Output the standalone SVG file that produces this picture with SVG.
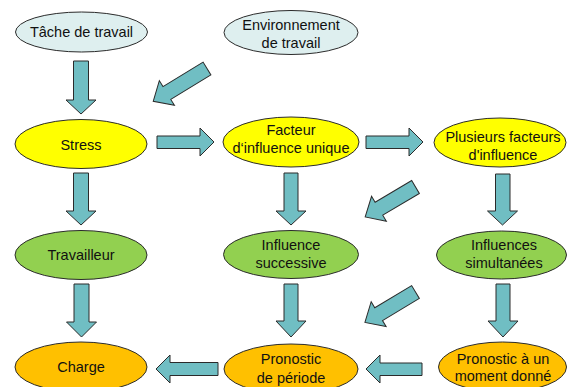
<svg xmlns="http://www.w3.org/2000/svg" width="568" height="387" viewBox="0 0 568 387">
<style>
.n ellipse{stroke:#2b2b2b;stroke-width:1}
.blue{fill:#DEEFEF}
.yel{fill:#FFFF00}
.grn{fill:#92D050}
.org{fill:#FFC000}
text{font-family:"Liberation Sans",Arial,sans-serif;font-size:14.5px;fill:#111;text-anchor:middle}
#connectors path{fill:#70BEC3;stroke:#2b2b2b;stroke-width:1;stroke-linejoin:miter}
</style>
<rect width="568" height="387" fill="#fff"/>
<g id="connectors">
<path d="M73.5,61 H88.5 V100 H96 L81,114 L66,100 H73.5 Z"/>
<path d="M73.5,173 H88.5 V211 H96 L81,225 L66,211 H73.5 Z"/>
<path d="M74,284 H89 V322 H96.5 L81.5,337 L66.5,322 H74 Z"/>
<path d="M284,173 H298 V211 H306 L291,225 L276,211 H284 Z"/>
<path d="M284,284 H298 V321 H306 L291,337 L276,321 H284 Z"/>
<path d="M495.5,174 H510 V211 H517.5 L502.5,225 L487.5,211 H495.5 Z"/>
<path d="M496,284 H510 V321 H518 L503,337 L488,321 H496 Z"/>
<path d="M157,136 H200 V128 L214,142 L200,156 V148.5 H157 Z"/>
<path d="M366,136 H409 V128 L423,142 L409,156 V148.5 H366 Z"/>
<path d="M218,362.5 H170 V355 L156,369 L170,383 V375.5 H218 Z"/>
<path d="M422,363 H380 V355 L366,369 L380,383 V375.5 H422 Z"/>
<path transform="translate(207,68.5) rotate(148.6)" d="M0,-7.5 H47 V-14.5 L63,0 L47,14.5 V7.5 H0 Z"/>
<path transform="translate(415.5,187) rotate(149.3)" d="M0,-7.5 H42.5 V-14.5 L58.5,0 L42.5,14.5 V7.5 H0 Z"/>
<path transform="translate(415.5,292) rotate(149)" d="M0,-7.5 H43 V-14.5 L59,0 L43,14.5 V7.5 H0 Z"/>
</g>
<g id="tache" class="n"><ellipse class="blue" cx="81.5" cy="32" rx="66" ry="20"/><text x="81.5" y="37">Tâche de travail</text></g>
<g id="environnement" class="n"><ellipse class="blue" cx="291" cy="32.5" rx="67" ry="22"/><text x="291" y="30">Environnement</text><text x="291" y="48">de travail</text></g>
<g id="stress" class="n"><ellipse class="yel" cx="81" cy="144" rx="66" ry="24.5"/><text x="81" y="150">Stress</text></g>
<g id="facteur" class="n"><ellipse class="yel" cx="291" cy="142" rx="68" ry="25"/><text x="291" y="135">Facteur</text><text x="291" y="153">d‘influence unique</text></g>
<g id="plusieurs" class="n"><ellipse class="yel" cx="500" cy="142.5" rx="66" ry="24.5"/><text x="503" y="142">Plusieurs facteurs</text><text x="503" y="160">d'influence</text></g>
<g id="travailleur" class="n"><ellipse class="grn" cx="81" cy="255" rx="66" ry="24.5"/><text x="81" y="260">Travailleur</text></g>
<g id="successive" class="n"><ellipse class="grn" cx="291" cy="254.5" rx="67.5" ry="24"/><text x="291" y="250">Influence</text><text x="291" y="268">successive</text></g>
<g id="simultanees" class="n"><ellipse class="grn" cx="501.5" cy="255" rx="65" ry="24"/><text x="504" y="250">Influences</text><text x="504" y="268">simultanées</text></g>
<g id="charge" class="n"><ellipse class="org" cx="81" cy="367" rx="66" ry="25"/><text x="81" y="372">Charge</text></g>
<g id="periode" class="n"><ellipse class="org" cx="291" cy="369" rx="67" ry="25"/><text x="291" y="364">Pronostic</text><text x="291" y="383">de période</text></g>
<g id="moment" class="n"><ellipse class="org" cx="502.5" cy="367" rx="64" ry="25"/><text x="503" y="364">Pronostic à un</text><text x="503" y="381">moment donné</text></g>
</svg>
